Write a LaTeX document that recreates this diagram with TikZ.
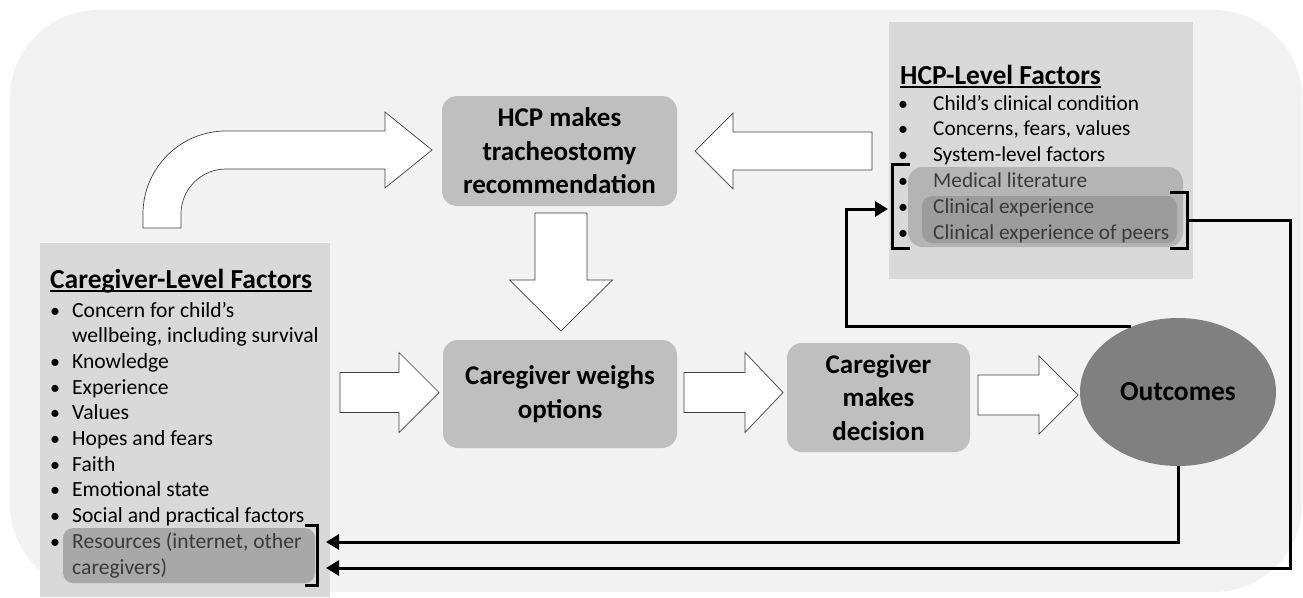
\documentclass[tikz,border=0pt]{standalone}
\usepackage{fontspec}
\setmainfont{Carlito}
\usetikzlibrary{arrows.meta,shapes.geometric,calc}
\definecolor{bgc}{HTML}{F2F2F2}
\definecolor{fac}{HTML}{D9D9D9}
\definecolor{proc}{HTML}{BFBFBF}
\definecolor{hlA}{HTML}{B4B4B4}
\definecolor{hlB}{HTML}{9C9C9C}
\definecolor{hlC}{HTML}{A8A8A8}
\definecolor{outc}{HTML}{808080}
\definecolor{blkline}{HTML}{404040}
\definecolor{dimtext}{HTML}{3A3A3A}
\newcommand\blkR[6]{\draw[blk] (#1,#4-#5) -- (#2,#4-#5) -- (#2,#4-#6) -- (#3,#4) -- (#2,#4+#6) -- (#2,#4+#5) -- (#1,#4+#5) -- cycle;}
\newcommand\blkD[6]{\draw[blk] (#4-#5,#1) -- (#4-#5,#2) -- (#4-#6,#2) -- (#4,#3) -- (#4+#6,#2) -- (#4+#5,#2) -- (#4+#5,#1) -- cycle;}
\begin{document}
\begin{tikzpicture}[x=1pt,y=-1pt,
  blk/.style={draw=blkline,line width=0.7pt,fill=white,line join=miter},
  procbox/.style={draw=none,fill=proc,rounded corners=15pt,inner sep=0pt,align=center,
     font=\fontsize{27}{33.5}\selectfont\bfseries},
  listtxt/.style={inner sep=0pt,anchor=base west,font=\fontsize{21.6}{25}\selectfont},
  hcptxt/.style={inner sep=0pt,anchor=base west,font=\fontsize{21.3}{25}\selectfont},
  bul/.style={inner sep=0pt,anchor=base,font=\fontsize{20}{24}\selectfont},
  ttl/.style={inner sep=0pt,anchor=base west,font=\fontsize{27.5}{31}\selectfont\bfseries},
  fb/.style={line width=3pt,-{Triangle[length=13pt,width=15pt]}},
  brk/.style={line width=3pt,line cap=butt,line join=miter}]
\useasboundingbox (0,0) rectangle (1303,597);
% background
\fill[bgc,rounded corners=88pt] (10,10) rectangle (1302,592);
% factor boxes
\fill[fac] (40,243) rectangle (330,597);
\fill[fac] (889,22) rectangle (1193,279);
% highlights
\fill[hlA,rounded corners=15pt] (908,167) rectangle (1183,247);
\fill[hlB,rounded corners=10pt] (922,196) rectangle (1177,243);
\fill[hlC,rounded corners=10pt] (63,528) rectangle (315,583);
% caregiver list
\node[ttl] (cgt) at (50,288) {Caregiver-Level Factors};
\draw[line width=1.5pt] ([yshift=-3pt]cgt.base west) -- ([yshift=-3pt]cgt.base east);
\foreach \t/\y/\b [count=\i] in {Concern for child’s/317/1,{wellbeing, including survival}/342.7/0,Knowledge/368.4/1,Experience/394.1/1,Values/419.8/1,Hopes and fears/445.5/1,Faith/471.2/1,Emotional state/496.9/1,Social and practical factors/522.6/1}{
  \node[listtxt] (cg\i) at (72,\y) {\t};
  \ifnum\b=1 \node[bul] (cgb\i) at (55,\y) {\textbullet};\fi
}
\node[bul] (cgb10) at (55,548.3) {\textbullet};
\node[listtxt,text=dimtext] (cg10) at (72,548.3) {Resources (internet, other};
\node[listtxt,text=dimtext] (cg11) at (72,574) {caregivers)};
% HCP list
\node[ttl] (hct) at (900,84) {HCP-Level Factors};
\draw[line width=1.5pt] ([yshift=-3pt]hct.base west) -- ([yshift=-3pt]hct.base east);
\foreach \t/\y [count=\i] in {Child’s clinical condition/110,{Concerns, fears, values}/135.8,System-level factors/161.6}{
  \node[hcptxt] (hc\i) at (933,\y) {\t};
  \node[bul] (hcb\i) at (903,\y) {\textbullet};
}
\foreach \t/\y [count=\i from 4] in {Medical literature/187.4,Clinical experience/213.2,Clinical experience of peers/239}{
  \node[hcptxt,text=dimtext] (hc\i) at (933,\y) {\t};
  \node[bul] (hcb\i) at (903,\y) {\textbullet};
}
% process nodes
\node[procbox,minimum width=235pt,minimum height=110pt] (rec) at (559.5,151) {HCP makes\\tracheostomy\\recommendation};
\node[procbox,minimum width=234pt,minimum height=108pt] (weigh) at (560,394) {Caregiver weighs\\options};
\node[procbox,minimum width=183pt,minimum height=109pt] (decide) at (878.5,397.5) {Caregiver\\makes\\decision};
\node[ellipse,fill=outc,inner sep=0pt,minimum width=196pt,minimum height=148pt,
  font=\fontsize{27.5}{31}\selectfont\bfseries] (out) at (1178,392) {Outcomes};
% block arrows
\draw[blk] (143,228) -- (143,214) arc[start angle=180,end angle=270,radius=83] -- (385,131)
  -- (385,112) -- (432,150) -- (385,188) -- (385,169) -- (226,169)
  arc[start angle=270,end angle=180,radius=45] -- (181,228) -- cycle;
\blkR{872}{733}{695}{151}{19}{38}
\blkD{213}{280}{331}{561}{26}{51.5}
\blkR{340}{399}{439}{392.5}{20}{40}
\blkR{684}{745}{783}{392.5}{20}{40}
\blkR{978}{1039}{1078}{395}{20}{39}
% brackets
\draw[brk] (910,164) -- (892,164) -- (892,248) -- (910,248);
\draw[brk] (1170,192) -- (1187,192) -- (1187,248) -- (1170,248);
\draw[brk] (305,525) -- (317,525) -- (317,585) -- (305,585);
\coordinate (hin) at (888,209);
\coordinate (hbr) at (1187,220);
\coordinate (cgin1) at (326,542);
\coordinate (cgin2) at (326,568);
% feedback connectors
\draw[fb] (out.126) -| ([xshift=-42pt]hin) -- (hin);
\draw[fb] (out.south) |- (cgin1);
\draw[fb] (hbr) -- ++(103,0) |- (cgin2);
\end{tikzpicture}
\end{document}
